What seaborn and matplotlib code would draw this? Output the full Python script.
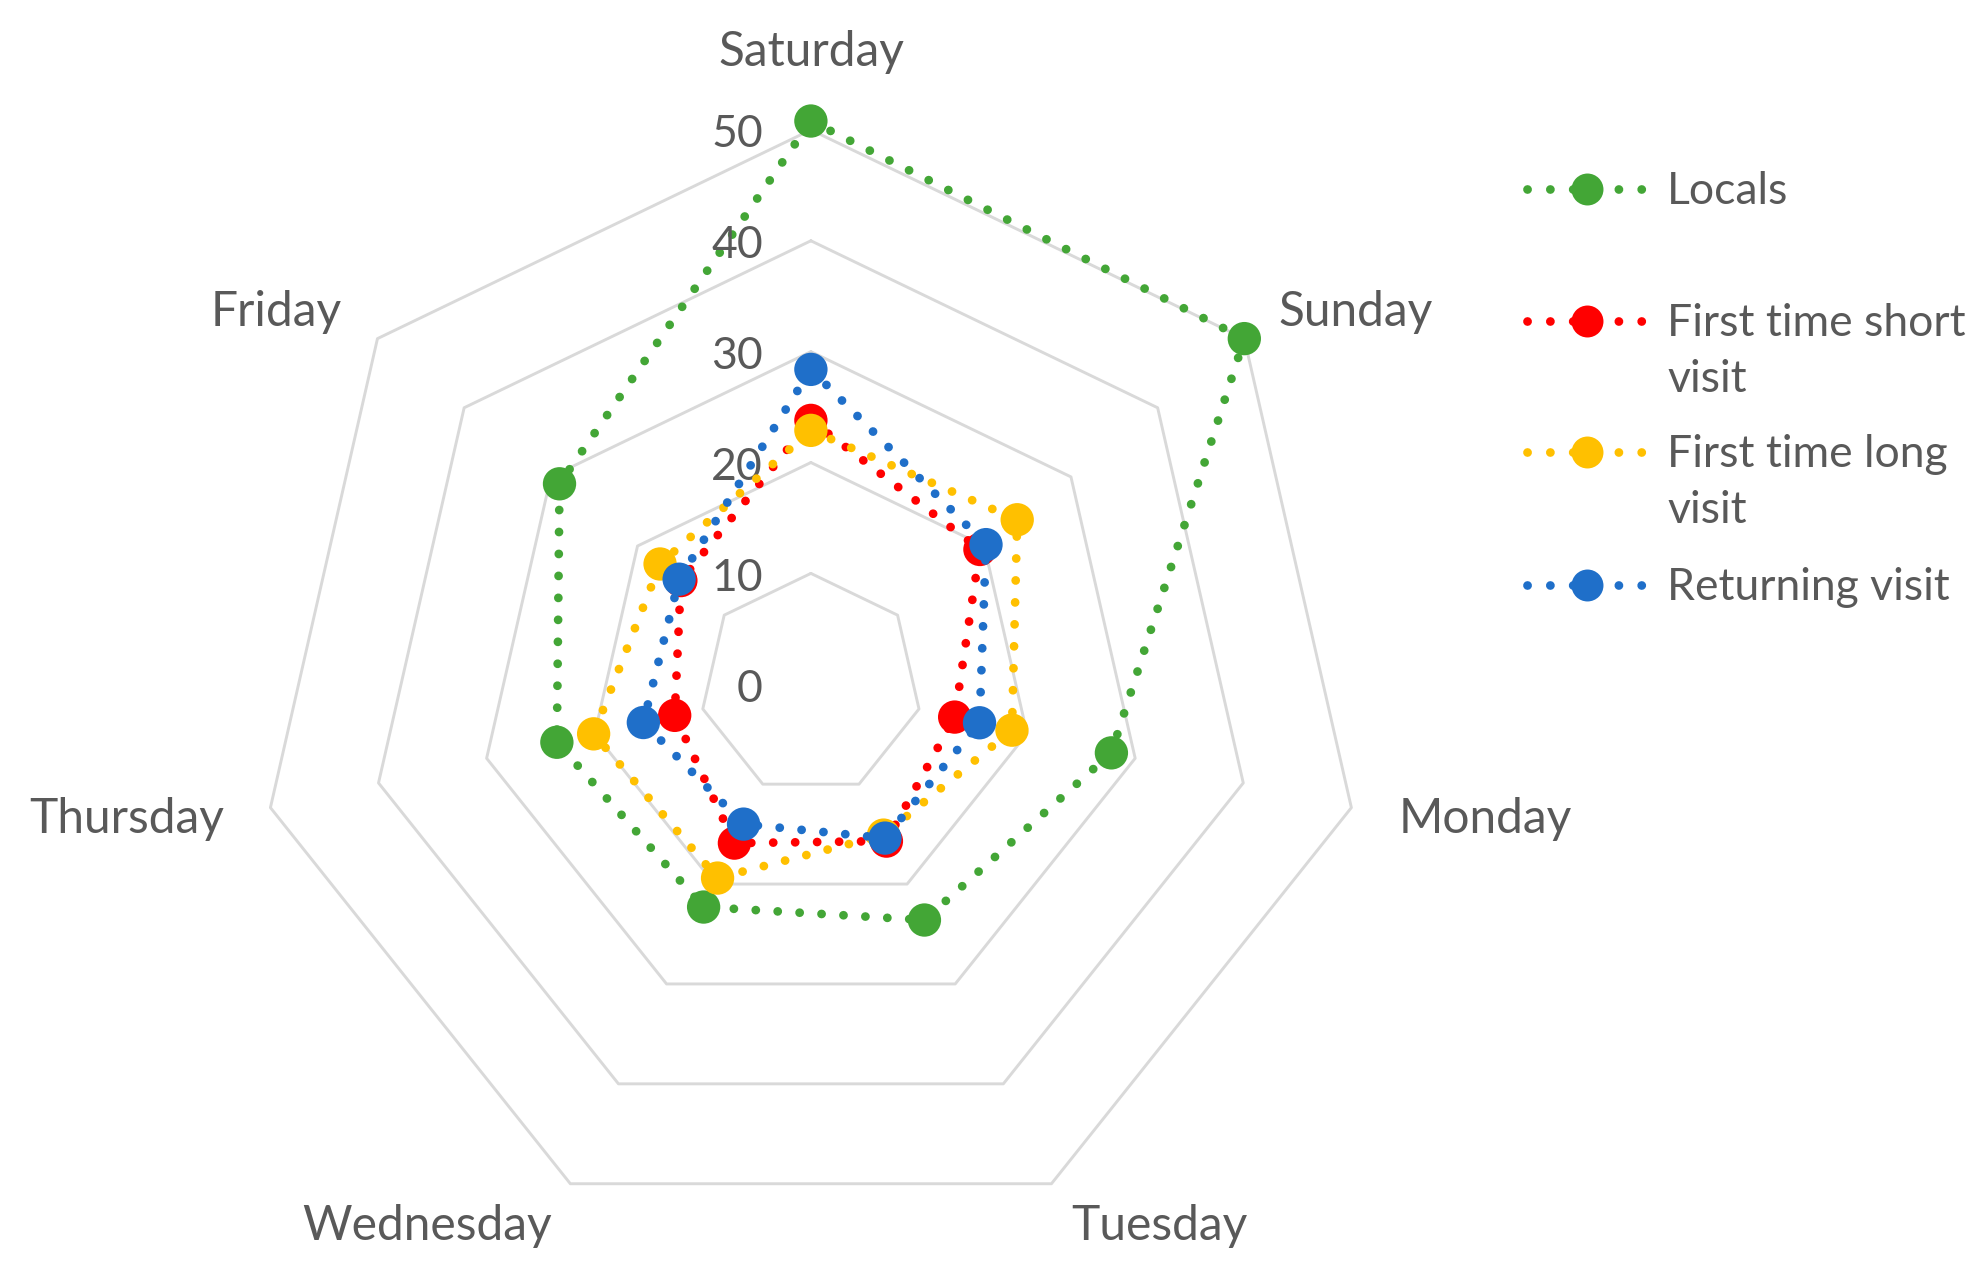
import numpy as np
import pandas as pd
import matplotlib
matplotlib.use("Agg")
import matplotlib.pyplot as plt
import seaborn as sns
from matplotlib.transforms import offset_copy

# -----------------------------
# Data
# -----------------------------
days = ["Saturday", "Sunday", "Monday", "Tuesday", "Wednesday", "Thursday", "Friday"]
locals_vals = [50.8, 50.0, 27.8, 23.6, 22.3, 23.5, 29.0]
short_vals = [23.8, 19.5, 13.3, 15.7, 15.9, 12.6, 15.0]
long_vals = [22.9, 23.8, 18.6, 15.1, 19.4, 20.1, 17.4]
return_vals = [28.4, 20.2, 15.6, 15.4, 14.0, 15.5, 15.2]
series_names = ["Locals", "First time short\nvisit", "First time long\nvisit", "Returning visit"]
series_colors = ["#43A636", "#FF0000", "#FFC000", "#1F6FC9"]
radial_ticks = [0, 10, 20, 30, 40, 50]

# label offsets from the outer vertex, in pixels (x right, y up)
label_offsets = [(0, 78), (111, 27), (134, -11), (108, -42), (-143, -42), (-144, -11), (-101, 27)]

sns.set_style("white")
plt.rcParams["font.family"] = ["Lato", "DejaVu Sans"]
text_color = "#595959"

fig = plt.figure(figsize=(19.87, 12.72), dpi=100)
ax = fig.add_axes([0.1291, 0.0262, 0.558, 0.8717], projection="polar")
ax.set_theta_zero_location("N")
ax.set_theta_direction(-1)

n = len(days)
theta = np.linspace(0, 2 * np.pi, n, endpoint=False)
theta_closed = np.append(theta, theta[0] + 2 * np.pi)

# heptagon grid
for r in radial_ticks[1:]:
    ax.plot(theta_closed, [r] * (n + 1), color="#D9D9D9", lw=2.1, zorder=1, clip_on=False)

dot_lw = 6.3
dotted = (0, (0.01, 2.5))
all_vals = [locals_vals, short_vals, long_vals, return_vals]
for k, (vals, color) in enumerate(zip(all_vals, series_colors)):
    df = pd.DataFrame({"theta": theta_closed, "value": list(vals) + [vals[0]]})
    sns.lineplot(data=df, x="theta", y="value", sort=False, ax=ax, color=color,
                 lw=dot_lw, linestyle=dotted, dash_capstyle="round",
                 zorder=3 + 2 * k, clip_on=False)
    sns.scatterplot(x=theta, y=vals, ax=ax, color=color, s=24 ** 2,
                    edgecolor="none", linewidth=0, zorder=4 + 2 * k, clip_on=False)

ax.set_ylim(0, 50)
ax.set_xticks([])
ax.set_yticks([])
ax.grid(False)
ax.spines["polar"].set_visible(False)
ax.set_xlabel("")
ax.set_ylabel("")
ax.patch.set_alpha(0)

# radial value labels
tick_tr = offset_copy(ax.transData, fig=fig, x=-48, y=-5, units="dots")
for r in radial_ticks:
    ax.text(0, r, str(r), transform=tick_tr, ha="right", va="center",
            fontsize=32, color=text_color, clip_on=False)

# category labels
for t, day, (dx, dy) in zip(theta, days, label_offsets):
    tr = offset_copy(ax.transData, fig=fig, x=dx, y=dy, units="dots")
    ax.text(t, 50, day, transform=tr, ha="center", va="center",
            fontsize=34.5, color=text_color, clip_on=False)

# legend (drawn in pixel coordinates)
lax = fig.add_axes([0, 0, 1, 1])
lax.set_xlim(0, 1987)
lax.set_ylim(1272, 0)
lax.axis("off")
lax.patch.set_alpha(0)
row_y = [189, 321, 452, 585]
for name, color, y in zip(series_names, series_colors, row_y):
    lax.plot([1527, 1644], [y, y], color=color, lw=dot_lw, linestyle=(0, (0.01, 2.6)),
             dash_capstyle="round")
    lax.plot([1587], [y], marker="o", color=color, markersize=23, markeredgewidth=0)
    lax.text(1667, y - 18, name, ha="left", va="top", fontsize=32,
             color=text_color, linespacing=1.45)

fig.savefig("out.png", dpi=100)
